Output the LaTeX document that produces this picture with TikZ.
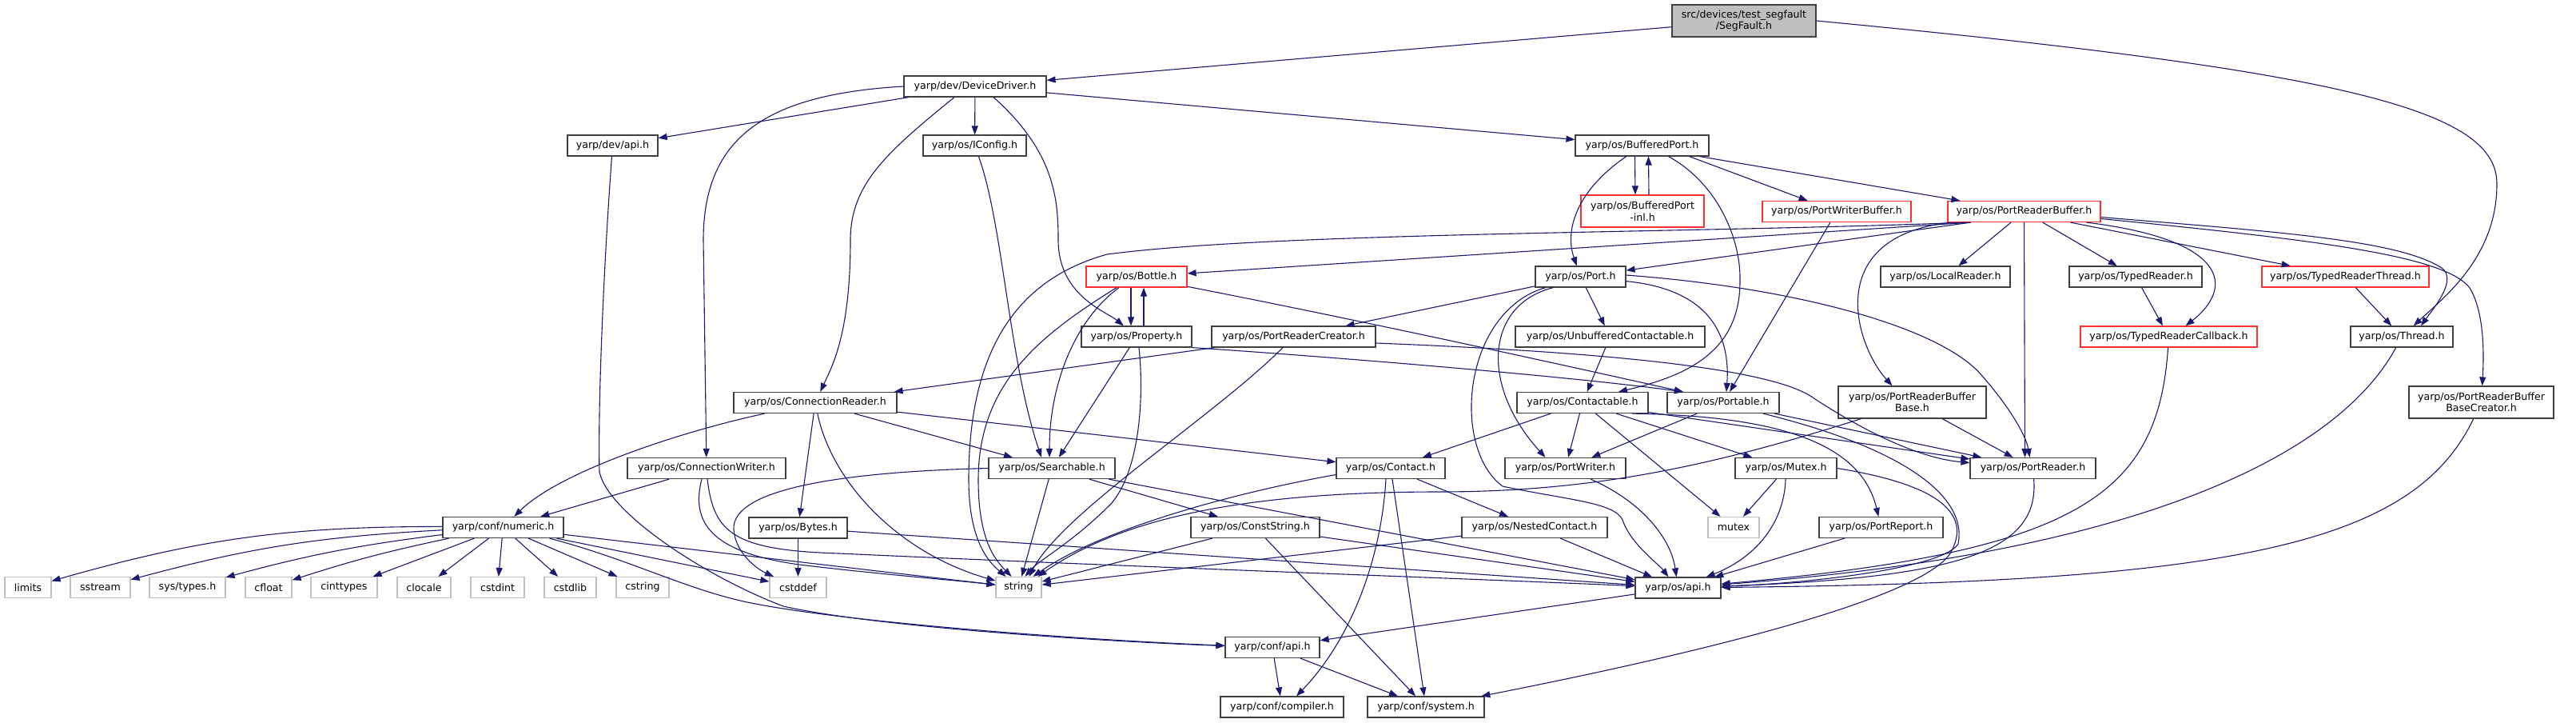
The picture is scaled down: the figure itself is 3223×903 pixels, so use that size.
\documentclass[tikz,border=0pt]{standalone}
\usepackage{fontspec}
\setmainfont{DejaVu Sans}
\usepackage{xcolor}
\usepackage{tikz}
\usetikzlibrary{arrows.meta}

\definecolor{deplink}{HTML}{191970}
\definecolor{boxline}{HTML}{404040}
\definecolor{boxred}{HTML}{FF3030}
\definecolor{boxgray}{HTML}{BFBFBF}

\begin{document}
\begin{tikzpicture}[x=1pt,y=-1pt]
  \tikzstyle{hdr}=[draw=boxline, line width=1.2pt, fill=white, inner sep=0pt, minimum height=26pt, align=center, font=\fontsize{12.6}{14.5}\selectfont]
  \tikzstyle{redhdr}=[hdr, draw=boxred]
  \tikzstyle{syshdr}=[hdr, draw=boxgray]
  \tikzstyle{rootfile}=[hdr, fill=boxgray, minimum height=40pt]
  \tikzstyle{dep}=[color=deplink, line width=1.1pt, -{Triangle[length=11pt,width=8pt]}]

  \fill[white] (0,0) rectangle (3223,903);

  % files
  \node[rootfile, minimum width=180pt] (segfault) at (2182,26) {src/devices/test\_segfault\\/SegFault.h};
  \node[hdr, minimum width=178pt] (devdrv) at (1220,108) {yarp/dev/DeviceDriver.h};
  \node[hdr, minimum width=113pt] (devapi) at (766.5,182) {yarp/dev/api.h};
  \node[hdr, minimum width=129pt] (iconfig) at (1219.5,182) {yarp/os/IConfig.h};
  \node[hdr, minimum width=167pt] (bufport) at (2054.5,182) {yarp/os/BufferedPort.h};
  \node[redhdr, minimum width=154pt, minimum height=40pt] (bufinl) at (2055,264) {yarp/os/BufferedPort\\-inl.h};
  \node[redhdr, minimum width=186pt] (pwbuf) at (2298,264.5) {yarp/os/PortWriterBuffer.h};
  \node[redhdr, minimum width=191pt] (prbuf) at (2532.5,264.5) {yarp/os/PortReaderBuffer.h};
  \node[redhdr, minimum width=126pt] (bottle) at (1422,346) {yarp/os/Bottle.h};
  \node[hdr, minimum width=113pt] (port) at (1977.5,346) {yarp/os/Port.h};
  \node[hdr, minimum width=162pt] (localrd) at (2434,346) {yarp/os/LocalReader.h};
  \node[hdr, minimum width=166pt] (typedrd) at (2672,346) {yarp/os/TypedReader.h};
  \node[redhdr, minimum width=209pt] (trthread) at (2934.5,346) {yarp/os/TypedReaderThread.h};
  \node[hdr, minimum width=138pt] (property) at (1422,421) {yarp/os/Property.h};
  \node[hdr, minimum width=205pt] (prcreator) at (1618.5,421) {yarp/os/PortReaderCreator.h};
  \node[hdr, minimum width=237pt] (unbuf) at (2014.5,421) {yarp/os/UnbufferedContactable.h};
  \node[redhdr, minimum width=221pt] (trcallback) at (2713.5,421) {yarp/os/TypedReaderCallback.h};
  \node[hdr, minimum width=128pt] (thread) at (3005,421) {yarp/os/Thread.h};
  \node[hdr, minimum width=204pt] (connrd) at (1020,503.5) {yarp/os/ConnectionReader.h};
  \node[hdr, minimum width=164pt] (contactable) at (1980,503.5) {yarp/os/Contactable.h};
  \node[hdr, minimum width=140pt] (portable) at (2156,503.5) {yarp/os/Portable.h};
  \node[hdr, minimum width=185pt, minimum height=40pt] (prbbase) at (2392.5,503) {yarp/os/PortReaderBuffer\\Base.h};
  \node[hdr, minimum width=181pt, minimum height=40pt] (prbbcreator) at (3104.5,503) {yarp/os/PortReaderBuffer\\BaseCreator.h};
  \node[hdr, minimum width=198pt] (connwr) at (884,585.5) {yarp/os/ConnectionWriter.h};
  \node[hdr, minimum width=158pt] (searchable) at (1316,585.5) {yarp/os/Searchable.h};
  \node[hdr, minimum width=136pt] (contact) at (1740,585.5) {yarp/os/Contact.h};
  \node[hdr, minimum width=151pt] (portwriter) at (1958.5,585.5) {yarp/os/PortWriter.h};
  \node[hdr, minimum width=127pt] (mutexh) at (2234.5,585.5) {yarp/os/Mutex.h};
  \node[hdr, minimum width=157pt] (portreader) at (2543.5,585.5) {yarp/os/PortReader.h};
  \node[hdr, minimum width=151pt] (numeric) at (629.5,659.5) {yarp/conf/numeric.h};
  \node[hdr, minimum width=123pt] (bytes) at (998.5,660) {yarp/os/Bytes.h};
  \node[hdr, minimum width=161pt] (conststr) at (1570.5,659.5) {yarp/os/ConstString.h};
  \node[hdr, minimum width=182pt] (nested) at (1920,659.5) {yarp/os/NestedContact.h};
  \node[syshdr, minimum width=64pt] (mutex) at (2169,659.5) {mutex};
  \node[hdr, minimum width=155pt] (portreport) at (2353.5,659.5) {yarp/os/PortReport.h};
  \node[syshdr, minimum width=58pt] (limits) at (35,734.5) {limits};
  \node[syshdr, minimum width=75pt] (sstream) at (125.5,734.5) {sstream};
  \node[syshdr, minimum width=95pt] (systypes) at (234.5,734.5) {sys/types.h};
  \node[syshdr, minimum width=58pt] (cfloat) at (336,734.5) {cfloat};
  \node[syshdr, minimum width=83pt] (cinttypes) at (430.5,734.5) {cinttypes};
  \node[syshdr, minimum width=67pt] (clocale) at (530.5,734.5) {clocale};
  \node[syshdr, minimum width=67pt] (cstdint) at (622.5,734.5) {cstdint};
  \node[syshdr, minimum width=65pt] (cstdlib) at (713.5,734.5) {cstdlib};
  \node[syshdr, minimum width=66pt] (cstring) at (804,734.5) {cstring};
  \node[syshdr, minimum width=71pt] (cstddef) at (998.5,734.5) {cstddef};
  \node[syshdr, minimum width=57pt] (string) at (1274.5,734.5) {string};
  \node[hdr, minimum width=107pt] (osapi) at (2099.5,735) {yarp/os/api.h};
  \node[hdr, minimum width=118pt] (confapi) at (1592,809.5) {yarp/conf/api.h};
  \node[hdr, minimum width=154pt] (compiler) at (1604,884) {yarp/conf/compiler.h};
  \node[hdr, minimum width=146pt] (system) at (1784,884) {yarp/conf/system.h};

  % includes of SegFault.h and DeviceDriver.h
  \path[dep] (segfault) edge (devdrv)
    (devdrv) edge (devapi)
    (devdrv) edge (iconfig)
    (devdrv) edge (bufport);
  \draw[dep] (segfault.east) .. controls (2950,90) and (3124,140) .. (3124,230) .. controls (3124,320) and (3060,370) .. (thread);
  \draw[dep] (devdrv.west) .. controls (960,118) and (880,170) .. (880,300) -- (connwr);
  \draw[dep] ([xshift=-26pt]devdrv.south) .. controls (1110,190) and (1064,230) .. (1064,300) .. controls (1064,420) and (1040,460) .. (connrd);
  \draw[dep] ([xshift=23pt]devdrv.south) .. controls (1320,190) and (1324,250) .. (1324,300) .. controls (1324,370) and (1385,390) .. (property);
  \draw[dep] (devapi) .. controls (754,350) and (748,520) .. (750,590) .. controls (760,640) and (880,720) .. (980,758) .. controls (1100,785) and (1400,803) .. (confapi);
  \draw[dep] (iconfig) .. controls (1255,280) and (1262,450) .. ([xshift=-13pt]searchable.north);

  % BufferedPort.h
  \draw[dep] ([xshift=-9pt]bufport.south) -- ([xshift=-9pt]bufinl.north);
  \draw[dep] ([xshift=8pt]bufinl.north) -- ([xshift=8pt]bufport.south);
  \draw[dep] (bufport) .. controls (1970,240) and (1958,290) .. (port);
  \draw[dep] ([xshift=33pt]bufport.south) .. controls (2150,230) and (2178,300) .. (2177,350) .. controls (2178,440) and (2110,470) .. ([xshift=45pt]contactable.north);
  \draw[dep] ([xshift=-25pt]bufport.south east) -- (pwbuf);
  \draw[dep] ([xshift=-12pt]bufport.south east) -- (prbuf);

  % PortReaderBuffer.h
  \draw[dep] ([xshift=-67pt]prbuf.south) -- (bottle);
  \draw[dep] ([xshift=-67pt]prbuf.south) -- (port);
  \draw[dep] ([xshift=-72pt]prbuf.south) .. controls (2100,292) and (1600,290) .. (1385,318) .. controls (1270,350) and (1212,440) .. (1212,600) .. controls (1212,680) and (1240,705) .. ([xshift=-16pt]string.north);
  \path[dep] (prbuf) edge (localrd)
    (prbuf) edge (typedrd);
  \draw[dep] ([xshift=58pt]prbuf.south) -- (trthread);
  \draw[dep] ([xshift=78pt]prbuf.south) .. controls (2790,300) and (2795,360) .. ([xshift=21pt]trcallback.north);
  \draw[dep] ([yshift=-7pt]prbuf.east) .. controls (2850,290) and (3000,300) .. (3055,335) .. controls (3075,350) and (3045,385) .. ([xshift=24pt]thread.north);
  \draw[dep] ([yshift=-9pt]prbuf.east) .. controls (2900,300) and (3060,320) .. (3090,360) .. controls (3108,390) and (3108,440) .. (prbbcreator);
  \draw[dep] ([xshift=5pt]prbuf.south west) .. controls (2280,295) and (2320,430) .. ([xshift=-25pt]prbbase.north);
  \draw[dep] (prbuf.south) -- ([xshift=-10pt]portreader.north);
  \path[dep] (pwbuf) edge (portable)
    (typedrd) edge (trcallback)
    (trthread) edge (thread);
  \draw[dep] (trcallback) .. controls (2700,620) and (2600,690) .. (osapi);
  \draw[dep] (thread) .. controls (2930,560) and (2700,690) .. (osapi);
  \draw[dep] (prbbcreator) .. controls (3020,680) and (2800,728) .. (osapi);
  \draw[dep] (portreader) .. controls (2552,690) and (2450,722) .. (osapi);

  % Bottle.h, Property.h, PortReaderCreator.h
  \draw[dep] ([xshift=-7pt]bottle.south) -- ([xshift=-7pt]property.north);
  \draw[dep] ([xshift=9pt]property.north) -- ([xshift=9pt]bottle.south);
  \draw[dep] ([xshift=-22pt]bottle.south) .. controls (1345,400) and (1313,480) .. ([xshift=-3pt]searchable.north);
  \draw[dep] ([xshift=-25pt]bottle.south) .. controls (1300,420) and (1224,480) .. (1224,600) .. controls (1224,675) and (1245,700) .. ([xshift=-9pt]string.north);
  \draw[dep] (bottle) .. controls (1700,400) and (1950,455) .. ([xshift=-50pt]portable.north);
  \path[dep] (property) edge (searchable);
  \draw[dep] ([xshift=3pt]property.south) .. controls (1432,500) and (1425,590) .. (1390,630) .. controls (1340,680) and (1300,700) .. ([xshift=8pt]string.north);
  \draw[dep] (property.south east) .. controls (1650,445) and (1960,470) .. ([xshift=-50pt]portable.north);
  \path[dep] (prcreator) edge (connrd);
  \draw[dep] (prcreator) .. controls (1520,520) and (1330,640) .. ([xshift=13pt]string.north);
  \draw[dep] ([yshift=-8pt]prcreator.east) .. controls (1950,438) and (2200,455) .. (2265,495) .. controls (2310,525) and (2390,572) .. (portreader);

  % Port.h
  \path[dep] (port) edge (prcreator)
    (port) edge (unbuf)
    (unbuf) edge (contactable);
  \draw[dep] ([xshift=-34pt]port.south) .. controls (1860,380) and (1850,480) .. ([xshift=-25pt]portwriter.north);
  \draw[dep] ([xshift=-44pt]port.south) .. controls (1830,390) and (1815,560) .. (1880,608) .. controls (1960,625) and (2020,628) .. (2030,650) .. controls (2040,680) and (2075,705) .. ([xshift=-12pt]osapi.north);
  \draw[dep] (port) .. controls (2140,362) and (2165,420) .. ([xshift=4pt]portable.north);
  \draw[dep] ([yshift=2pt]port.east) .. controls (2250,360) and (2430,410) .. (2480,470) .. controls (2515,510) and (2535,545) .. ([xshift=-4pt]portreader.north);

  % ConnectionReader.h, ConnectionWriter.h
  \draw[dep] (connrd) .. controls (850,540) and (700,590) .. (numeric);
  \path[dep] (connrd) edge (bytes)
    (connrd) edge (searchable)
    (connrd) edge (contact)
    (connwr) edge (numeric);
  \draw[dep] (connrd) .. controls (1040,600) and (1120,690) .. (string);
  \draw[dep] ([xshift=-6pt]connwr.south) .. controls (862,660) and (900,692) .. (1000,706) .. controls (1100,718) and (1200,726) .. (string);
  \draw[dep] ([xshift=1pt]connwr.south) .. controls (893,665) and (915,688) .. (1050,692) .. controls (1400,708) and (1800,722) .. (osapi);

  % numeric.h
  \path[dep] (numeric) edge[bend right=8] (limits)
    (numeric) edge[bend right=6] (sstream)
    (numeric) edge[bend right=4] (systypes)
    (numeric) edge[bend right=3] (cfloat)
    (numeric) edge (cinttypes)
    (numeric) edge (clocale)
    (numeric) edge (cstdint)
    (numeric) edge (cstdlib)
    (numeric) edge (cstring)
    (numeric) edge (cstddef)
    (numeric) edge (string);
  \draw[dep] ([xshift=58pt]numeric.south) .. controls (790,700) and (860,738) .. (940,754) .. controls (1060,778) and (1350,800) .. (confapi);

  % Searchable.h, Bytes.h, Contact.h, ConstString.h, NestedContact.h
  \path[dep] (searchable) edge (string)
    (searchable) edge (conststr)
    (searchable) edge (osapi)
    (bytes) edge (cstddef)
    (bytes) edge (osapi)
    (contact) edge (nested)
    (contact) edge (system)
    (conststr) edge (string)
    (conststr) edge (osapi)
    (conststr) edge (system)
    (nested) edge (string)
    (nested) edge (osapi);
  \draw[dep] (searchable.west) .. controls (1050,590) and (915,612) .. (918,662) .. controls (920,692) and (948,712) .. (cstddef);
  \draw[dep] ([yshift=-8pt]contact.west) .. controls (1550,615) and (1380,660) .. ([xshift=18pt]string.north);
  \draw[dep] ([xshift=-6pt]contact.south) .. controls (1728,700) and (1690,800) .. ([xshift=18pt]compiler.north);

  % Contactable.h, Portable.h
  \path[dep] (contactable) edge (contact)
    (contactable) edge (portwriter)
    (contactable) edge (mutex)
    (contactable) edge (mutexh)
    (contactable) edge (portreader)
    (portable) edge (portwriter)
    (portable) edge (portreader);
  \draw[dep] ([xshift=62pt]contactable.south) .. controls (2240,520) and (2330,560) .. (portreport);
  \draw[dep] ([xshift=50pt]portable.south) .. controls (2380,560) and (2462,620) .. (2450,680) .. controls (2430,712) and (2250,730) .. (osapi);

  % Mutex.h and the rest
  \path[dep] (mutexh) edge (mutex)
    (portreport) edge (osapi)
    (prbbase) edge (portreader)
    (osapi) edge (confapi)
    (confapi) edge (compiler)
    (confapi) edge (system);
  \draw[dep] (mutexh) .. controls (2232,660) and (2190,700) .. (osapi);
  \draw[dep] (mutexh.east) .. controls (2420,605) and (2470,640) .. (2440,692) .. controls (2400,752) and (2100,822) .. (system);
  \draw[dep] (portwriter) .. controls (2050,625) and (2090,670) .. ([xshift=-2pt]osapi.north);
  \draw[dep] ([xshift=-64pt]prbbase.south) .. controls (2150,580) and (2000,615) .. (1800,615) .. controls (1550,615) and (1400,650) .. ([xshift=24pt]string.north);
\end{tikzpicture}
\end{document}
